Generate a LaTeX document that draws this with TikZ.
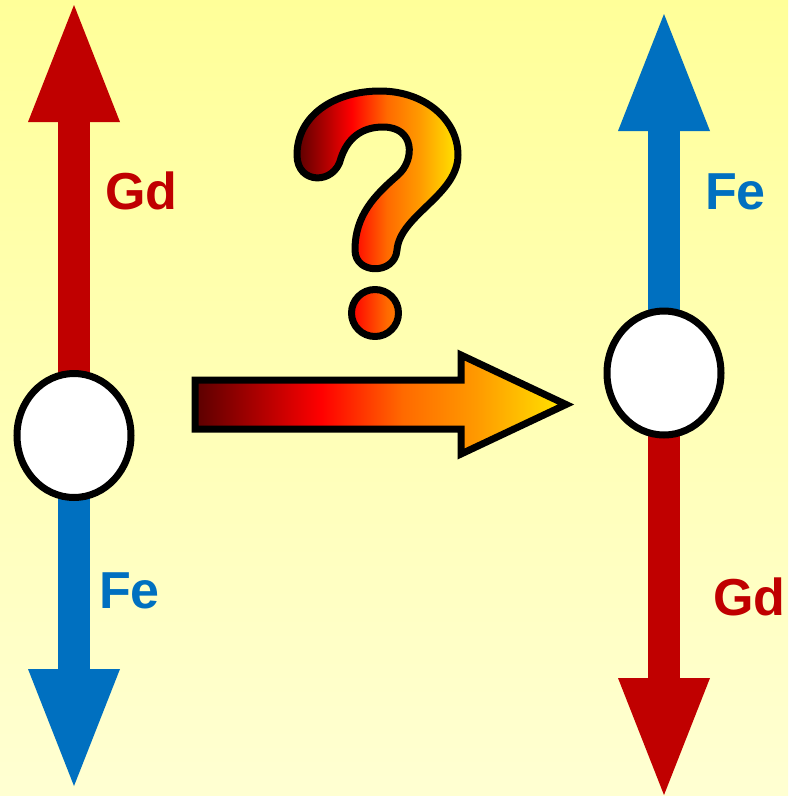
\documentclass[tikz,border=0pt]{standalone}
\usepackage{fontspec}
\setmainfont{Liberation Sans}
\usetikzlibrary{arrows.meta,shapes.geometric}

\definecolor{gdred}{HTML}{C00000}
\definecolor{feblue}{HTML}{0070C0}
\definecolor{bgtop}{HTML}{FFFF99}
\definecolor{bgbot}{HTML}{FFFFD2}
\definecolor{heatdark}{HTML}{5A0000}
\definecolor{heatred}{HTML}{FF0000}
\definecolor{heatorange}{HTML}{FF6A00}
\definecolor{heatamber}{HTML}{FF9A00}
\definecolor{heatyellow}{HTML}{FFE600}

\pgfdeclarehorizontalshading{heat}{100bp}{color(0bp)=(heatdark); color(25bp)=(heatdark);
  color(42bp)=(heatred); color(53bp)=(heatorange); color(63bp)=(heatamber);
  color(75bp)=(heatyellow); color(100bp)=(heatyellow)}

\pgfdeclarelayer{back}
\pgfdeclarelayer{shafts}
\pgfsetlayers{back,shafts,main}

\begin{document}
\begin{tikzpicture}[
  x=1pt, y=-1pt,
  site/.style={draw, ellipse, fill=white, line width=7pt, inner sep=0pt, outer sep=0pt,
               minimum width=114pt, minimum height=124pt},
  mom/.style={line width=32pt, -{Triangle[length=117pt, width=92pt, line width=0pt]}},
  lbl/.style={anchor=base west, inner sep=0pt, font=\bfseries\fontsize{52}{52}\selectfont},
  heatfill/.style={shading=heat, draw=black, line width=7pt}
]
\useasboundingbox (0,0) rectangle (788,796);
\begin{pgfonlayer}{back}
  \fill[top color=bgtop, bottom color=bgbot] (0,0) rectangle (788,796);
\end{pgfonlayer}

% before: Gd up, Fe down
\node[site] (lspin) at (74,435.5) {};
\coordinate (ltop) at (74,5);
\coordinate (lbot) at (74,786);
\node[lbl, text=gdred] (lgd) at (105,209) {Gd};
\node[lbl, text=feblue] (lfe) at (99,608) {Fe};

% after: Fe up, Gd down
\node[site] (rspin) at (664,373) {};
\coordinate (rtop) at (664,14);
\coordinate (rbot) at (664,795);
\node[lbl, text=feblue] (rfe) at (705,209) {Fe};
\node[lbl, text=gdred] (rgd) at (713,615) {Gd};

\begin{pgfonlayer}{shafts}
  \draw[mom, gdred] (lspin.center) -- (ltop);
  \draw[mom, feblue] (lspin.center) -- (lbot);
  \draw[mom, feblue] (rspin.center) -- (rtop);
  \draw[mom, gdred] (rspin.center) -- (rbot);
\end{pgfonlayer}

% big arrow
\path[heatfill] (195,380) -- (461,380) -- (461,355) -- (566,404.5)
  -- (461,454) -- (461,429) -- (195,429) -- cycle;

% question mark
\path[heatfill, line join=round]
  (297,155) .. controls (297,115) and (335,91) .. (380,91)
  .. controls (425,91) and (458,120) .. (458,155)
  .. controls (458,195) and (400,215) .. (397,250)
  .. controls (395,275) and (355,275) .. (355,250)
  .. controls (355,215) and (375,195) .. (398,175)
  .. controls (415,160) and (415,127) .. (383,127)
  .. controls (360,127) and (347,140) .. (341,158)
  .. controls (335,185) and (297,185) .. (297,155) -- cycle
  (375,313) circle[radius=23.5];
\end{tikzpicture}
\end{document}
